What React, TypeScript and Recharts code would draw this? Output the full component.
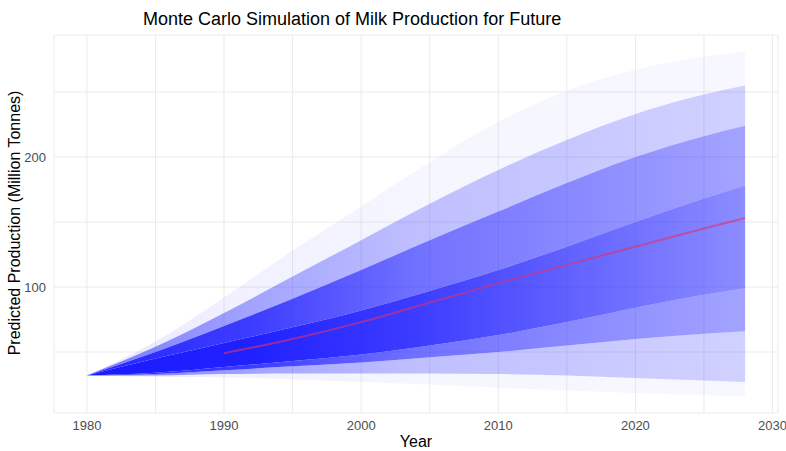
import { ComposedChart, Area, Line, XAxis, YAxis, CartesianGrid } from 'recharts'

// years sampled along the simulation paths
const years = [1980, 1985, 1990, 1995, 2000, 2005, 2010, 2015, 2020, 2025, 2028]

// envelope curves of the simulated paths, lowest to highest (million tonnes)
const pathMin = [32, 31, 30.5, 29, 27, 25, 22.5, 20.5, 18.5, 17, 16]
const lowFaint = [32, 32, 33, 33.5, 33.5, 33.5, 33, 32, 30, 28, 27]
const lowLight = [32, 33, 36, 39, 42, 46, 50, 55, 60, 64, 66]
const coreLow = [32, 34, 38.5, 43, 48, 55, 63, 73, 84, 94, 99]
const coreHigh = [32, 45, 57, 69, 82, 97, 113, 131, 150, 168, 178]
const highLight = [32, 50, 70, 91, 113, 136, 158, 180, 200, 216, 224]
const highFaint = [32, 54, 80, 108, 136, 164, 190, 213, 233, 248, 255]
const pathMax = [32, 58, 92, 128, 162, 196, 227, 251, 267, 277, 281]

// mean of the simulations (red line), starts in 1990
const meanPath = [null, null, 49, 60, 73, 88, 103, 117, 131, 145, 153]

const yTicks = [50, 100, 150, 200, 250]
const xTicks = [1980, 1985, 1990, 1995, 2000, 2005, 2010, 2015, 2020, 2025, 2030]

const curves = [pathMin, lowFaint, lowLight, coreLow, coreHigh, highLight, highFaint, pathMax]

// opacity along each band (1980 -> 2028), from bottom band to top band
const faint = [0.1, 0.06, 0.04, 0.035]
const light = [0.6, 0.4, 0.28, 0.2]
const medium = [0.95, 0.85, 0.62, 0.4]
const core = [1, 0.97, 0.85, 0.5]
const bandAlpha = [faint, light, medium, core, medium, light, faint]
const stopAt = ['0%', '25%', '50%', '100%']

const data = years.map((year, i) => {
    const row: Record<string, any> = { year, mean: meanPath[i] }
    for (let b = 0; b < curves.length - 1; b++) {
        row['b' + b] = [curves[b][i], curves[b + 1][i]]
    }
    return row
})

const blue = '#1a1aff'
const textFont = '"Liberation Sans", Arial, sans-serif'

export default function App() {
    return (
        <div style={{ position: 'absolute', left: 0, top: 0, width: 786, height: 451, background: '#fff', fontFamily: textFont }}>
            <div style={{ position: 'absolute', left: 143, top: 9, fontSize: 18, lineHeight: '20px', color: '#000', whiteSpace: 'nowrap' }}>
                Monte Carlo Simulation of Milk Production for Future
            </div>
            <div style={{
                position: 'absolute', left: 15, top: 223, fontSize: 16, color: '#000', whiteSpace: 'nowrap',
                transform: 'translate(-50%, -50%) rotate(-90deg)',
            }}>
                Predicted Production (Million Tonnes)
            </div>
            <div style={{ position: 'absolute', left: 416, top: 442, fontSize: 16, color: '#000', transform: 'translate(-50%, -50%)' }}>
                Year
            </div>
            <ComposedChart width={786} height={451} data={data} margin={{ top: 35, right: 8, left: 0, bottom: 0 }}>
                <defs>
                    {bandAlpha.map((a, i) => (
                        <linearGradient key={i} id={'band' + i} x1="0" y1="0" x2="1" y2="0">
                            {a.map((op, j) => (
                                <stop key={j} offset={stopAt[j]} stopColor={blue} stopOpacity={op} />
                            ))}
                        </linearGradient>
                    ))}
                </defs>
                <CartesianGrid stroke="#ebebeb" strokeWidth={1} />
                <XAxis
                    dataKey="year"
                    type="number"
                    domain={[1977.6, 2030.4]}
                    ticks={xTicks}
                    height={38}
                    axisLine={false}
                    tickLine={false}
                    tick={{ fill: '#4d4d4d', fontSize: 13, fontFamily: textFont }}
                    tickFormatter={(v: number) => (v % 10 === 0 ? String(v) : '')}
                    allowDataOverflow
                />
                <YAxis
                    type="number"
                    domain={[3.1, 293.8]}
                    ticks={yTicks}
                    width={54}
                    axisLine={false}
                    tickLine={false}
                    tick={{ fill: '#4d4d4d', fontSize: 13, fontFamily: textFont }}
                    tickFormatter={(v: number) => (v % 100 === 0 ? String(v) : '')}
                    allowDataOverflow
                />
                {bandAlpha.map((_, i) => (
                    <Area
                        key={i}
                        type="monotone"
                        dataKey={'b' + i}
                        stroke="none"
                        fill={`url(#band${i})`}
                        fillOpacity={1}
                        isAnimationActive={false}
                        activeDot={false}
                    />
                ))}
                <Line
                    type="monotone"
                    dataKey="mean"
                    stroke="#e0306a"
                    strokeOpacity={0.6}
                    strokeWidth={2}
                    dot={false}
                    activeDot={false}
                    isAnimationActive={false}
                />
            </ComposedChart>
        </div>
    )
}
